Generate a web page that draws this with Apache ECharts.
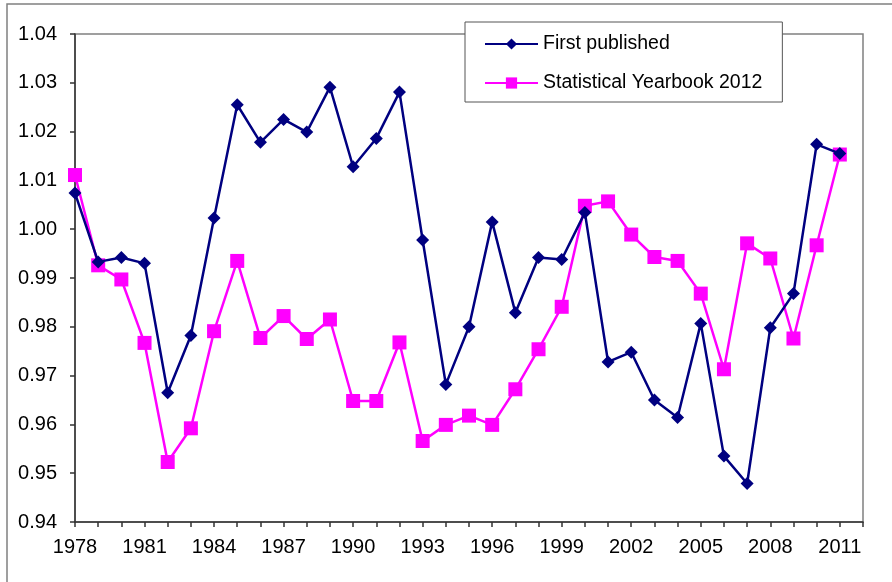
<!DOCTYPE html>
<html>
<head>
<meta charset="utf-8">
<script src="https://cdn.jsdelivr.net/npm/echarts@6/dist/echarts.min.js"></script>
<style>
  html, body { margin: 0; padding: 0; background: #fff; }
  #chart { width: 892px; height: 582px; }
</style>
</head>
<body>
<div id="chart"></div>
<script>
// years on the x axis
var years = [1978, 1979, 1980, 1981, 1982, 1983, 1984, 1985, 1986, 1987, 1988,
             1989, 1990, 1991, 1992, 1993, 1994, 1995, 1996, 1997, 1998, 1999,
             2000, 2001, 2002, 2003, 2004, 2005, 2006, 2007, 2008, 2009, 2010, 2011];

var firstPublished = [1.0074, 0.9933, 0.9942, 0.9930, 0.9665, 0.9782, 1.0023, 1.0255, 1.0178, 1.0225, 1.0199,
                      1.0291, 1.0128, 1.0186, 1.0281, 0.9978, 0.9682, 0.9800, 1.0015, 0.9829, 0.9942, 0.9938,
                      1.0034, 0.9728, 0.9748, 0.9650, 0.9614, 0.9807, 0.9535, 0.9479, 0.9798, 0.9868, 1.0174, 1.0155];

var yearbook2012 = [1.0111, 0.9926, 0.9897, 0.9767, 0.9523, 0.9592, 0.9791, 0.9935, 0.9777, 0.9822, 0.9775,
                    0.9815, 0.9648, 0.9648, 0.9768, 0.9566, 0.9599, 0.9618, 0.9599, 0.9672, 0.9754, 0.9841,
                    1.0048, 1.0057, 0.9989, 0.9943, 0.9935, 0.9868, 0.9713, 0.9971, 0.9940, 0.9776, 0.9967, 1.0153];

// labelled years on x axis
var xTickLabels = [1978, 1981, 1984, 1987, 1990, 1993, 1996, 1999, 2002, 2005, 2008, 2011];

var seriesNames = ['First published', 'Statistical Yearbook 2012'];

function pairs(vals) {
    var out = [];
    for (var i = 0; i < years.length; i++) {
        out.push([years[i], vals[i]]);
    }
    return out;
}

var myChart = echarts.init(document.getElementById('chart'));

var font = '"Liberation Sans", Arial, sans-serif';

var option = {
    backgroundColor: '#fff',
    animation: false,
    textStyle: { fontFamily: font },
    graphic: [{
        type: 'rect',
        shape: { x: 7, y: 4, width: 900, height: 600 },
        style: { fill: 'none', stroke: '#808080', lineWidth: 1.5 },
        silent: true,
        z: 0
    }],
    grid: {
        left: 75,
        top: 34,
        right: 29,
        bottom: 60,
        show: true,
        borderColor: '#808080',
        borderWidth: 1.5,
        backgroundColor: 'transparent'
    },
    legend: {
        orient: 'vertical',
        left: 465,
        top: 22,
        padding: [12, 20, 9, 19],
        itemGap: 19,
        itemWidth: 53,
        itemHeight: 14,
        backgroundColor: '#fff',
        borderColor: '#555',
        borderWidth: 1,
        borderRadius: 0,
        textStyle: { fontSize: 19.5, color: '#000', fontFamily: font },
        data: seriesNames
    },
    xAxis: {
        type: 'value',
        min: 1978,
        max: 2012,
        interval: 1,
        splitLine: { show: false },
        axisLine: { lineStyle: { color: '#333', width: 1.5 } },
        axisTick: { inside: false, length: 5, lineStyle: { color: '#333', width: 1.5 } },
        axisLabel: {
            fontSize: 20,
            color: '#000',
            margin: 15,
            showMaxLabel: true,
            formatter: function (v) {
                return xTickLabels.indexOf(v) >= 0 ? String(v) : '';
            }
        }
    },
    yAxis: {
        type: 'value',
        min: 0.94,
        max: 1.04,
        interval: 0.01,
        splitLine: { show: false },
        axisLine: { show: true, lineStyle: { color: '#333', width: 1.5 } },
        axisTick: { show: true, inside: false, length: 5, lineStyle: { color: '#333', width: 1.5 } },
        axisLabel: {
            fontSize: 20,
            color: '#000',
            margin: 18,
            formatter: function (v) { return v.toFixed(2); }
        }
    },
    series: [{
        name: seriesNames[0],
        type: 'line',
        data: pairs(firstPublished),
        symbol: 'diamond',
        symbolSize: 13,
        showAllSymbol: true,
        color: '#000080',
        itemStyle: { color: '#000080' },
        lineStyle: { color: '#000080', width: 2.5 },
        z: 3
    }, {
        name: seriesNames[1],
        type: 'line',
        data: pairs(yearbook2012),
        symbol: 'rect',
        symbolSize: 14,
        showAllSymbol: true,
        color: '#ff00ff',
        itemStyle: { color: '#ff00ff' },
        lineStyle: { color: '#ff00ff', width: 2.5 },
        z: 2
    }]
};

myChart.setOption(option);
</script>
</body>
</html>
